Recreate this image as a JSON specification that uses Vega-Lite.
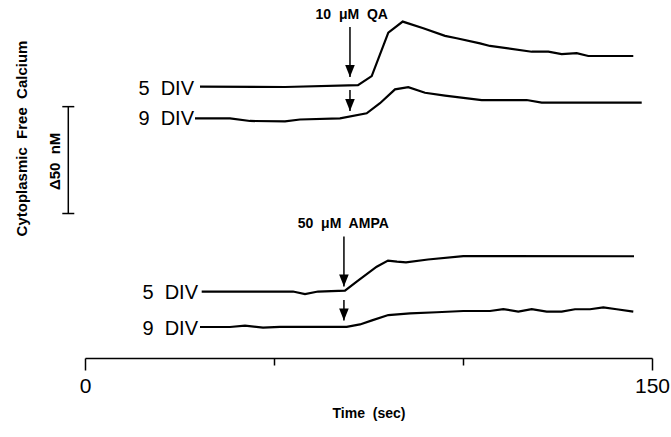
{
  "$schema": "https://vega.github.io/schema/vega-lite/v6.json",
  "width": 567,
  "height": 358,
  "autosize": {"type": "none"},
  "padding": {"left": 85, "top": 0, "right": 19, "bottom": 79},
  "config": {
    "view": {"stroke": null},
    "font": "Liberation Sans",
    "axis": {"grid": false}
  },
  "resolve": {"axis": {"x": "independent"}},
  "datasets": {
    "traces": [
      {"series": "QA 5 DIV", "t": 30.42, "v": 127.0},
      {"series": "QA 5 DIV", "t": 52.91, "v": 126.8},
      {"series": "QA 5 DIV", "t": 72.22, "v": 127.7},
      {"series": "QA 5 DIV", "t": 75.85, "v": 131.9},
      {"series": "QA 5 DIV", "t": 80.24, "v": 152.2},
      {"series": "QA 5 DIV", "t": 84.05, "v": 157.4},
      {"series": "QA 5 DIV", "t": 89.5, "v": 154.3},
      {"series": "QA 5 DIV", "t": 95.24, "v": 150.7},
      {"series": "QA 5 DIV", "t": 98.33, "v": 149.6},
      {"series": "QA 5 DIV", "t": 104.5, "v": 147.2},
      {"series": "QA 5 DIV", "t": 107.14, "v": 146.0},
      {"series": "QA 5 DIV", "t": 118.17, "v": 143.3},
      {"series": "QA 5 DIV", "t": 122.57, "v": 143.3},
      {"series": "QA 5 DIV", "t": 126.11, "v": 142.2},
      {"series": "QA 5 DIV", "t": 130.08, "v": 142.6},
      {"series": "QA 5 DIV", "t": 133.15, "v": 141.3},
      {"series": "QA 5 DIV", "t": 145.05, "v": 141.3},

      {"series": "QA 9 DIV", "t": 29.1, "v": 112.1},
      {"series": "QA 9 DIV", "t": 38.36, "v": 112.1},
      {"series": "QA 9 DIV", "t": 43.65, "v": 110.9},
      {"series": "QA 9 DIV", "t": 52.91, "v": 110.7},
      {"series": "QA 9 DIV", "t": 56.88, "v": 111.6},
      {"series": "QA 9 DIV", "t": 67.46, "v": 112.1},
      {"series": "QA 9 DIV", "t": 74.52, "v": 114.5},
      {"series": "QA 9 DIV", "t": 78.04, "v": 119.2},
      {"series": "QA 9 DIV", "t": 82.01, "v": 125.7},
      {"series": "QA 9 DIV", "t": 85.53, "v": 126.7},
      {"series": "QA 9 DIV", "t": 89.95, "v": 124.1},
      {"series": "QA 9 DIV", "t": 95.24, "v": 122.8},
      {"series": "QA 9 DIV", "t": 104.95, "v": 120.7},
      {"series": "QA 9 DIV", "t": 116.85, "v": 120.7},
      {"series": "QA 9 DIV", "t": 120.82, "v": 119.5},
      {"series": "QA 9 DIV", "t": 147.28, "v": 119.5},

      {"series": "AMPA 5 DIV", "t": 30.87, "v": 31.1},
      {"series": "AMPA 5 DIV", "t": 55.03, "v": 31.1},
      {"series": "AMPA 5 DIV", "t": 58.2, "v": 29.9},
      {"series": "AMPA 5 DIV", "t": 61.64, "v": 31.1},
      {"series": "AMPA 5 DIV", "t": 68.78, "v": 31.5},
      {"series": "AMPA 5 DIV", "t": 71.88, "v": 35.7},
      {"series": "AMPA 5 DIV", "t": 77.17, "v": 42.7},
      {"series": "AMPA 5 DIV", "t": 80.16, "v": 45.6},
      {"series": "AMPA 5 DIV", "t": 82.54, "v": 45.1},
      {"series": "AMPA 5 DIV", "t": 84.92, "v": 44.7},
      {"series": "AMPA 5 DIV", "t": 90.74, "v": 46.1},
      {"series": "AMPA 5 DIV", "t": 100.08, "v": 47.7},
      {"series": "AMPA 5 DIV", "t": 145.24, "v": 47.6},

      {"series": "AMPA 9 DIV", "t": 30.42, "v": 14.5},
      {"series": "AMPA 9 DIV", "t": 38.36, "v": 14.5},
      {"series": "AMPA 9 DIV", "t": 42.33, "v": 15.1},
      {"series": "AMPA 9 DIV", "t": 47.09, "v": 14.2},
      {"series": "AMPA 9 DIV", "t": 51.59, "v": 14.6},
      {"series": "AMPA 9 DIV", "t": 69.23, "v": 14.6},
      {"series": "AMPA 9 DIV", "t": 72.75, "v": 15.7},
      {"series": "AMPA 9 DIV", "t": 75.93, "v": 17.6},
      {"series": "AMPA 9 DIV", "t": 80.24, "v": 20.1},
      {"series": "AMPA 9 DIV", "t": 85.98, "v": 20.9},
      {"series": "AMPA 9 DIV", "t": 93.04, "v": 21.4},
      {"series": "AMPA 9 DIV", "t": 100.08, "v": 22.0},
      {"series": "AMPA 9 DIV", "t": 107.14, "v": 22.0},
      {"series": "AMPA 9 DIV", "t": 110.66, "v": 22.9},
      {"series": "AMPA 9 DIV", "t": 114.63, "v": 21.7},
      {"series": "AMPA 9 DIV", "t": 118.17, "v": 22.9},
      {"series": "AMPA 9 DIV", "t": 122.14, "v": 21.7},
      {"series": "AMPA 9 DIV", "t": 126.11, "v": 21.7},
      {"series": "AMPA 9 DIV", "t": 129.63, "v": 22.8},
      {"series": "AMPA 9 DIV", "t": 133.6, "v": 22.8},
      {"series": "AMPA 9 DIV", "t": 137.12, "v": 23.7},
      {"series": "AMPA 9 DIV", "t": 140.66, "v": 22.8},
      {"series": "AMPA 9 DIV", "t": 145.05, "v": 21.7}
    ],
    "arrows": [
      {"agonist": "QA", "t": 70.1, "v": 131.5, "v2": 154.9},
      {"agonist": "QA", "t": 70.1, "v": 115.6, "v2": 125.4},
      {"agonist": "AMPA", "t": 68.5, "v": 33.4, "v2": 56.8},
      {"agonist": "AMPA", "t": 68.5, "v": 17.6, "v2": 27.1}
    ],
    "divLabels": [
      {"label": "5\u00a0 DIV", "t": 28.84, "v": 125.8},
      {"label": "9\u00a0 DIV", "t": 28.84, "v": 111.7},
      {"label": "5\u00a0 DIV", "t": 29.89, "v": 30.6},
      {"label": "9\u00a0 DIV", "t": 29.89, "v": 13.7}
    ],
    "agonistLabels": [
      {"label": "10\u00a0 \u03bcM\u00a0 QA", "t": 70.56, "v": 160.3},
      {"label": "50\u00a0 \u03bcM\u00a0 AMPA", "t": 68.33, "v": 62.7}
    ],
    "scaleBar": [
      {"t": -4.42, "v": 67.6, "v2": 117.6}
    ],
    "scaleCaps": [
      {"t": -4.42, "v": 67.6},
      {"t": -4.42, "v": 117.6}
    ],
    "scaleLabel": [
      {"label": "\u039450\u00a0 nM", "t": -8.0, "v": 92.0}
    ]
  },
  "encoding": {
    "y": {
      "field": "v",
      "type": "quantitative",
      "scale": {"domain": [0, 167.5], "nice": false, "zero": false},
      "axis": {
        "title": "Cytoplasmic\u00a0 Free\u00a0 Calcium",
        "domain": false,
        "ticks": false,
        "labels": false,
        "titleFont": "Liberation Sans",
        "titleFontSize": 15,
        "titleFontWeight": "bold",
        "titleColor": "black",
        "titleAngle": 270,
        "titleBaseline": "middle",
        "titleX": -64,
        "titleY": 138
      }
    }
  },
  "layer": [
    {
      "data": {"name": "traces"},
      "mark": {"type": "line", "color": "black", "strokeWidth": 2.2},
      "encoding": {
        "x": {
          "field": "t",
          "type": "quantitative",
          "scale": {"domain": [0, 150], "nice": false, "zero": false},
          "axis": {
            "orient": "bottom",
            "title": "Time\u00a0 (sec)",
            "values": [0, 150],
            "labelFlush": false,
            "labelOverlap": false,
            "labelFont": "Liberation Sans",
            "labelFontSize": 21,
            "labelColor": "black",
            "labelBaseline": "alphabetic",
            "labelPadding": 22,
            "domainColor": "black",
            "domainWidth": 1.5,
            "tickColor": "black",
            "tickWidth": 1.5,
            "tickSize": 12,
            "titleFont": "Liberation Sans",
            "titleFontSize": 14,
            "titleFontWeight": "bold",
            "titleColor": "black",
            "titleBaseline": "alphabetic",
            "titleY": 59
          }
        },
        "detail": {"field": "series"}
      }
    },
    {
      "data": {"name": "arrows"},
      "mark": {"type": "rule", "color": "black", "strokeWidth": 1.5},
      "encoding": {
        "x": {
          "field": "t",
          "type": "quantitative",
          "axis": {
            "orient": "bottom",
            "title": null,
            "values": [50, 100],
            "labels": false,
            "domain": false,
            "tickColor": "black",
            "tickWidth": 1.5,
            "tickSize": 7
          }
        },
        "y2": {"field": "v2"}
      }
    },
    {
      "data": {"name": "arrows"},
      "mark": {
        "type": "point",
        "shape": "M-0.8,-2L0.8,-2L0,0Z",
        "size": 144,
        "filled": true,
        "color": "black",
        "opacity": 1
      },
      "encoding": {"x": {"field": "t", "type": "quantitative", "axis": null}}
    },
    {
      "data": {"name": "divLabels"},
      "mark": {"type": "text", "align": "right", "baseline": "middle", "fontSize": 20, "color": "black"},
      "encoding": {
        "x": {"field": "t", "type": "quantitative", "axis": null},
        "text": {"field": "label"}
      }
    },
    {
      "data": {"name": "agonistLabels"},
      "mark": {"type": "text", "align": "center", "baseline": "middle", "fontSize": 14, "fontWeight": "bold", "color": "black"},
      "encoding": {
        "x": {"field": "t", "type": "quantitative", "axis": null},
        "text": {"field": "label"}
      }
    },
    {
      "data": {"name": "scaleBar"},
      "mark": {"type": "rule", "color": "black", "strokeWidth": 1.5},
      "encoding": {
        "x": {"field": "t", "type": "quantitative", "axis": null},
        "y2": {"field": "v2"}
      }
    },
    {
      "data": {"name": "scaleCaps"},
      "mark": {"type": "point", "shape": "stroke", "size": 144, "filled": false, "color": "black", "strokeWidth": 1.5, "opacity": 1},
      "encoding": {"x": {"field": "t", "type": "quantitative", "axis": null}}
    },
    {
      "data": {"name": "scaleLabel"},
      "mark": {"type": "text", "align": "center", "baseline": "middle", "angle": 270, "fontSize": 15, "fontWeight": "bold", "color": "black"},
      "encoding": {
        "x": {"field": "t", "type": "quantitative", "axis": null},
        "text": {"field": "label"}
      }
    }
  ]
}
